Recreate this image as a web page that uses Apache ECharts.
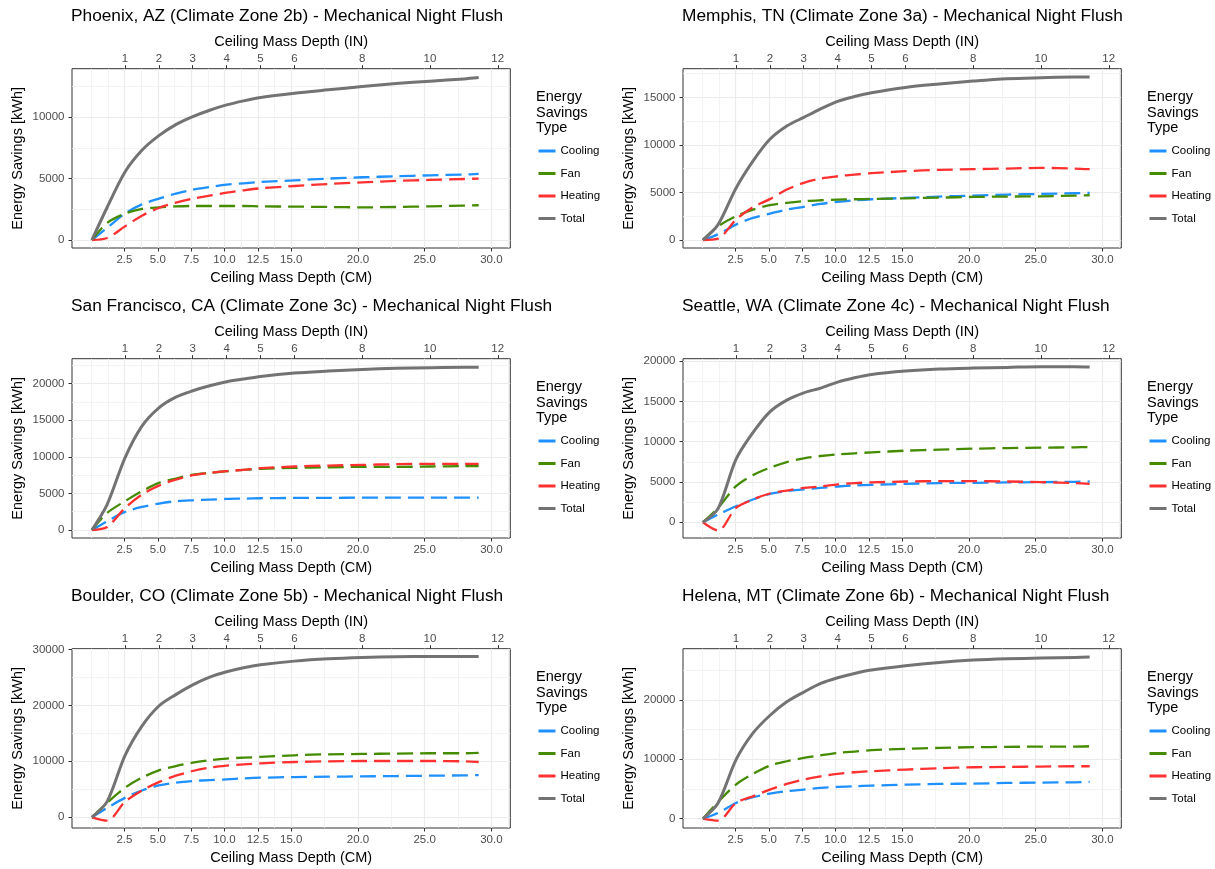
<!DOCTYPE html>
<html>
<head>
<meta charset="utf-8">
<title>Mechanical Night Flush - Energy Savings</title>
<script src="https://cdn.jsdelivr.net/npm/echarts@6/dist/echarts.min.js"></script>
<style>
  html, body { margin: 0; padding: 0; background: #fff; }
  #chart { width: 1215px; height: 869px; }
</style>
</head>
<body>
<div id="chart"></div>
<script>
// ceiling mass depth (cm) of each simulated case
const depthCm = [0.06, 1.2, 2.54, 3.81, 5.08, 6.35, 7.62, 8.89, 10.16, 11.43, 12.7, 15.24, 17.78, 20.32, 22.86, 25.4, 27.94, 29.05];
const cmTicks = [2.5, 5, 7.5, 10, 12.5, 15, 20, 25, 30];
const cmMinor = [0, 1.25, 3.75, 6.25, 8.75, 11.25, 13.75, 17.5, 22.5, 27.5, 31.25];
const inTicks = [1, 2, 3, 4, 5, 6, 8, 10, 12];
const savingTypes = ['Cooling', 'Fan', 'Heating', 'Total'];

// energy savings [kWh]
const phoenixCooling = [0, 980, 2150, 2900, 3370, 3780, 4100, 4320, 4510, 4620, 4730, 4860, 5000, 5110, 5190, 5270, 5330, 5380];
const phoenixFan     = [0, 1390, 2150, 2530, 2660, 2740, 2770, 2770, 2770, 2770, 2740, 2720, 2690, 2660, 2690, 2740, 2800, 2830];
const phoenixHeating = [0, 160, 1110, 1980, 2610, 3040, 3370, 3610, 3860, 4050, 4210, 4400, 4560, 4700, 4810, 4890, 4970, 5000];
const phoenixTotal   = [0, 2650, 5540, 7310, 8500, 9400, 10050, 10570, 11000, 11330, 11600, 11950, 12230, 12500, 12740, 12930, 13120, 13230];

const memphisCooling = [0, 600, 1620, 2320, 2780, 3200, 3480, 3800, 4010, 4180, 4290, 4430, 4570, 4670, 4780, 4850, 4920, 4960];
const memphisFan     = [0, 1440, 2500, 3200, 3660, 3900, 4080, 4180, 4250, 4290, 4320, 4390, 4460, 4530, 4570, 4600, 4670, 4710];
const memphisHeating = [0, 140, 2140, 3450, 4300, 5310, 6010, 6470, 6710, 6890, 7030, 7240, 7380, 7450, 7520, 7590, 7520, 7450];
const memphisTotal   = [0, 1620, 5450, 8300, 10600, 12000, 12900, 13800, 14600, 15100, 15500, 16060, 16420, 16730, 16980, 17080, 17150, 17150];

const sfCooling = [0, 1190, 2470, 3150, 3610, 3930, 4060, 4150, 4250, 4290, 4340, 4380, 4380, 4430, 4430, 4430, 4430, 4430];
const sfFan     = [0, 2330, 3930, 5300, 6440, 7030, 7580, 7810, 8040, 8220, 8360, 8490, 8580, 8630, 8630, 8680, 8720, 8720];
const sfHeating = [0, 410, 3010, 4840, 6070, 6890, 7490, 7810, 8040, 8220, 8450, 8680, 8810, 8900, 9000, 9040, 9040, 9040];
const sfTotal   = [0, 3470, 9860, 14200, 16710, 18170, 19040, 19720, 20270, 20640, 21000, 21460, 21730, 21960, 22100, 22190, 22240, 22240];

const seattleCooling = [0, 950, 1990, 2820, 3530, 3860, 4070, 4270, 4440, 4570, 4650, 4770, 4860, 4900, 4940, 4980, 5020, 5060];
const seattleFan     = [0, 1780, 4480, 5850, 6760, 7470, 7930, 8220, 8420, 8550, 8670, 8880, 9010, 9130, 9210, 9250, 9300, 9340];
const seattleHeating = [0, -1040, 1780, 2820, 3570, 3940, 4270, 4440, 4690, 4860, 4940, 5060, 5100, 5100, 5060, 4980, 4860, 4770];
const seattleTotal   = [0, 1700, 7800, 11120, 13700, 15150, 16060, 16640, 17390, 17930, 18340, 18760, 19010, 19130, 19210, 19300, 19300, 19260];

const boulderCooling = [0, 1680, 3470, 4790, 5690, 6170, 6470, 6650, 6770, 6950, 7070, 7190, 7250, 7310, 7370, 7430, 7490, 7550];
const boulderFan     = [0, 2580, 5270, 7070, 8390, 9160, 9760, 10180, 10480, 10660, 10780, 11080, 11260, 11320, 11380, 11440, 11440, 11500];
const boulderHeating = [0, -600, 2760, 4790, 6290, 7430, 8270, 8870, 9220, 9460, 9640, 9880, 10000, 10060, 10060, 10060, 10000, 9880];
const boulderTotal   = [0, 2800, 11020, 16290, 19890, 21920, 23660, 25040, 26000, 26720, 27250, 27910, 28330, 28570, 28690, 28750, 28750, 28750];

const helenaCooling = [0, 960, 2640, 3600, 4210, 4610, 4890, 5170, 5340, 5450, 5560, 5730, 5840, 5900, 6010, 6070, 6120, 6180];
const helenaFan     = [0, 2810, 5730, 7530, 8930, 9660, 10220, 10670, 11070, 11290, 11520, 11740, 11910, 12020, 12080, 12130, 12130, 12190];
const helenaHeating = [0, -340, 2640, 3760, 4890, 5840, 6570, 7130, 7530, 7810, 7980, 8260, 8480, 8650, 8710, 8760, 8820, 8820];
const helenaTotal   = [0, 2640, 9890, 14380, 17360, 19660, 21290, 22750, 23710, 24440, 25000, 25730, 26290, 26690, 26910, 27020, 27130, 27190];

const panelTitles = [
  'Phoenix, AZ (Climate Zone 2b) - Mechanical Night Flush',
  'Memphis, TN (Climate Zone 3a) - Mechanical Night Flush',
  'San Francisco, CA (Climate Zone 3c) - Mechanical Night Flush',
  'Seattle, WA (Climate Zone 4c) - Mechanical Night Flush',
  'Boulder, CO (Climate Zone 5b) - Mechanical Night Flush',
  'Helena, MT (Climate Zone 6b) - Mechanical Night Flush'
];
const panelSeries = [
  [phoenixCooling, phoenixFan, phoenixHeating, phoenixTotal],
  [memphisCooling, memphisFan, memphisHeating, memphisTotal],
  [sfCooling, sfFan, sfHeating, sfTotal],
  [seattleCooling, seattleFan, seattleHeating, seattleTotal],
  [boulderCooling, boulderFan, boulderHeating, boulderTotal],
  [helenaCooling, helenaFan, helenaHeating, helenaTotal]
];
const yTicks = [
  [0, 5000, 10000],
  [0, 5000, 10000, 15000],
  [0, 5000, 10000, 15000, 20000],
  [0, 5000, 10000, 15000, 20000],
  [0, 10000, 20000, 30000],
  [0, 10000, 20000]
];
const yMinor = [
  [2500, 7500, 12500],
  [2500, 7500, 12500, 17500],
  [2500, 7500, 12500, 17500, 22500],
  [2500, 7500, 12500, 17500],
  [5000, 15000, 25000],
  [5000, 15000, 25000]
];
const yRange = [[-650, 13950], [-844, 18030], [-1096, 23420], [-1950, 20290], [-1917, 30130], [-1573, 28600]];

// layout / style
const FONT = "'Liberation Sans', Arial, sans-serif";
const colX = [0, 611];
const rowY = [0, 290, 580];
const xRange = [-1.43, 31.42];
const lineLook = {
  Cooling: { color: '#1E90FF', width: 2.3, type: [16, 7] },
  Fan:     { color: '#458B00', width: 2.3, type: [16, 7] },
  Heating: { color: '#FF3030', width: 2.3, type: [16, 7] },
  Total:   { color: '#737373', width: 3, type: 'solid' }
};
const majorGrid = { color: '#EBEBEB', width: 1.2 };
const minorGrid = { color: '#F0F0F0', width: 0.8 };
const tickStyle = { color: '#333333', width: 1 };
const tickText = { color: '#4D4D4D', fontSize: 11.5, fontFamily: FONT, lineHeight: 13 };

const option = {
  animation: false,
  backgroundColor: '#ffffff',
  title: [], legend: [], grid: [], xAxis: [], yAxis: [], series: []
};

panelTitles.forEach((ttl, p) => {
  const dx = colX[p % 2], dy = rowY[Math.floor(p / 2)];

  option.title.push({
    text: ttl, left: 71 + dx, top: 6 + dy, padding: 0,
    textStyle: { fontSize: 17.3, fontWeight: 'normal', color: '#000', fontFamily: FONT, lineHeight: 20 }
  });
  option.title.push({
    text: 'Energy\nSavings\nType', left: 536 + dx, top: 89.5 + dy, padding: 0,
    textStyle: { fontSize: 14.5, fontWeight: 'normal', color: '#000', fontFamily: FONT, lineHeight: 15.4 }
  });
  option.legend.push({
    data: savingTypes, orient: 'vertical', left: 538.5 + dx, top: 144 + dy, padding: 0,
    icon: 'rect', itemWidth: 17, itemHeight: 3, itemGap: 8.5,
    itemStyle: { borderWidth: 0 },
    textStyle: { fontSize: 11.5, color: '#000', fontFamily: FONT, lineHeight: 14 }
  });
  option.grid.push({
    left: 72 + dx, top: 68.7 + dy, width: 438.3, height: 179.3,
    show: true, borderColor: '#333333', borderWidth: 1, backgroundColor: '#fff',
    outerBoundsMode: 'none', containLabel: false
  });

  const xi = option.xAxis.length, yi = option.yAxis.length;
  // bottom axis, cm
  option.xAxis.push({
    gridIndex: p, type: 'value', position: 'bottom', min: xRange[0], max: xRange[1],
    name: 'Ceiling Mass Depth (CM)', nameLocation: 'middle', nameGap: 22, nameMoveOverlap: false,
    nameTextStyle: { fontSize: 14.5, color: '#000', fontFamily: FONT },
    axisLine: { show: false, onZero: false },
    axisTick: { show: true, customValues: cmTicks, length: 3.5, lineStyle: tickStyle },
    axisLabel: Object.assign({ customValues: cmTicks, margin: 5.5, hideOverlap: false, formatter: v => v.toFixed(1) }, tickText),
    splitLine: { show: true, lineStyle: majorGrid }
  });
  // top axis, inches
  option.xAxis.push({
    gridIndex: p, type: 'value', position: 'top', min: xRange[0], max: xRange[1],
    name: 'Ceiling Mass Depth (IN)', nameLocation: 'middle', nameGap: 19.2, nameMoveOverlap: false,
    nameTextStyle: { fontSize: 14.5, color: '#000', fontFamily: FONT },
    axisLine: { show: false, onZero: false },
    axisTick: { show: true, customValues: inTicks.map(v => v * 2.54), length: 3.5, lineStyle: tickStyle },
    axisLabel: Object.assign({ customValues: inTicks.map(v => v * 2.54), margin: 3, hideOverlap: false,
      formatter: v => String(Math.round(v / 2.54)) }, tickText),
    splitLine: { show: false }
  });
  // minor grid lines
  option.xAxis.push({
    gridIndex: p, type: 'value', position: 'bottom', min: xRange[0], max: xRange[1],
    axisLine: { show: false, onZero: false },
    axisTick: { show: false, customValues: cmMinor },
    axisLabel: { show: false },
    splitLine: { show: true, lineStyle: minorGrid }
  });

  option.yAxis.push({
    gridIndex: p, type: 'value', position: 'left', min: yRange[p][0], max: yRange[p][1],
    name: 'Energy Savings [kWh]', nameLocation: 'middle', nameGap: 47, nameRotate: 90, nameMoveOverlap: false,
    nameTextStyle: { fontSize: 14.5, color: '#000', fontFamily: FONT },
    axisLine: { show: false, onZero: false },
    axisTick: { show: true, customValues: yTicks[p], length: 3.5, lineStyle: tickStyle },
    axisLabel: Object.assign({ customValues: yTicks[p], margin: 7.5, hideOverlap: false, formatter: v => String(v) }, tickText),
    splitLine: { show: true, lineStyle: majorGrid }
  });
  option.yAxis.push({
    gridIndex: p, type: 'value', position: 'left', min: yRange[p][0], max: yRange[p][1],
    axisLine: { show: false, onZero: false },
    axisTick: { show: false, customValues: yMinor[p] },
    axisLabel: { show: false },
    splitLine: { show: true, lineStyle: minorGrid }
  });

  savingTypes.forEach((name, k) => {
    const look = lineLook[name];
    option.series.push({
      name: name, type: 'line', xAxisIndex: xi, yAxisIndex: yi,
      data: depthCm.map((x, j) => [x, panelSeries[p][k][j]]),
      showSymbol: false, symbol: 'none', smooth: 0.3, silent: true,
      color: look.color,
      itemStyle: { color: look.color },
      lineStyle: { color: look.color, width: look.width, type: look.type, cap: 'butt', join: 'round' },
      z: 2 + k
    });
  });
});

const chart = echarts.init(document.getElementById('chart'), null, { renderer: 'canvas' });
chart.setOption(option);
</script>
</body>
</html>
